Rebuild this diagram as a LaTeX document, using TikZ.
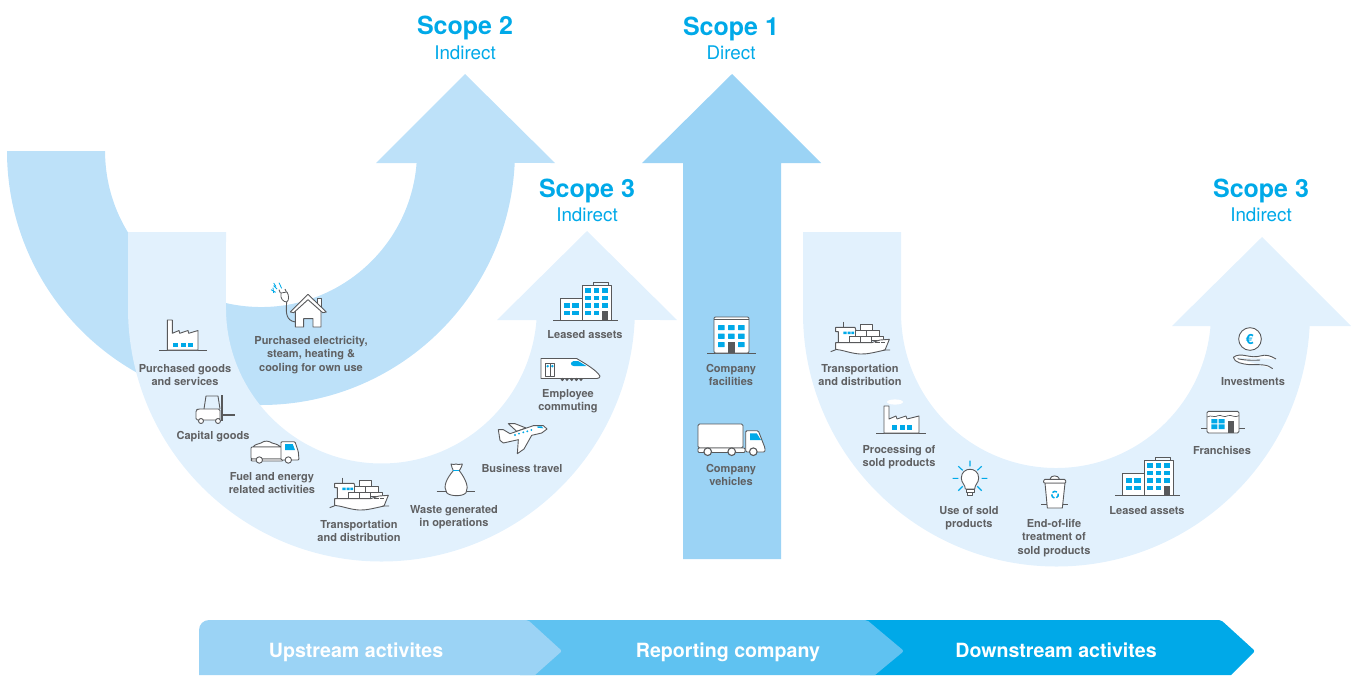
\documentclass[tikz,border=0pt]{standalone}
\usepackage{fontspec}
\setmainfont{TeX Gyre Heros}
\definecolor{pale}{HTML}{E2F1FD}
\definecolor{midb}{HTML}{BDE1F9}
\definecolor{sone}{HTML}{9BD3F5}
\definecolor{barm}{HTML}{5FC2F1}
\definecolor{cyanb}{HTML}{00A9E8}
\definecolor{greyt}{HTML}{5F6062}
\definecolor{greyi}{HTML}{58595B}
\tikzset{
 ic/.style={yscale=-1},
 ico/.style={draw=greyi,fill=white,line width=0.9pt,line join=round},
 gl/.style={draw=greyi,line width=0.9pt},
 blu/.style={fill=cyanb},
 drk/.style={fill=greyi},
 ray/.style={draw=cyanb,line width=1.1pt},
 lab/.style={text=greyt,font=\fontsize{11}{13.3}\selectfont\bfseries,align=center,inner sep=0pt,yshift=-1pt},
 ttl/.style={text=cyanb,font=\fontsize{25}{26}\selectfont\bfseries,inner sep=0pt,yshift=-2pt},
 sub/.style={text=cyanb,font=\fontsize{18.8}{19}\selectfont,inner sep=0pt},
 barl/.style={text=white,font=\fontsize{19.6}{20}\selectfont\bfseries,inner sep=0pt,text height=14.5pt,text depth=4pt},
 factorya/.pic={
  \draw[gl] (-24,0)--(24,0);
  \draw[ico] (-15.7,0)--(-15.7,-30)--(-10.7,-30)--(-10.7,-16.7)--(-4,-19.5)--(-3.3,-16.7)--(5,-19.5)--(5.7,-16.7)--(15,-19.5)--(15,0)--cycle;
  \foreach \x in {-10,-2.4,5}{\fill[blu] (\x,-6.7) rectangle ++(5,3.4);}
 },
 factoryb/.pic={
  \fill[white] (-6,-31) ellipse (8 and 2.6);
  \draw[gl] (-25,0)--(25,0);
  \draw[ico] (-17,0)--(-17,-27)--(-12,-27)--(-12,-14)--(-5,-17)--(-4,-14)--(5,-17)--(6,-14)--(18,-17)--(18,0)--cycle;
  \foreach \x in {-9,-1.5,6}{\fill[blu] (\x,-8) rectangle ++(5,5);}
 },
 leased/.pic={
  \draw[gl] (-29,0)--(36,0);
  \draw[ico] (-22,0) rectangle (0,-22);
  \draw[ico,fill=midb!30!white] (11,-37.5) rectangle (26,-35);
  \draw[ico] (0,0) rectangle (29,-35);
  \foreach \y in {-31.7,-24,-16.7,-9}{\foreach \x in {3.3,11.7}{\fill[blu] (\x,\y) rectangle ++(5.7,4.3);}}
  \foreach \y in {-31.7,-24,-16.7}{\fill[blu] (20,\y) rectangle ++(5.7,4.3);}
  \fill[drk] (20,-9) rectangle (25.7,0);
  \foreach \y in {-16.7,-9}{\foreach \x in {-18.3,-10}{\fill[blu] (\x,\y) rectangle ++(6.7,4.3);}}
 },
 office/.pic={
  \draw[gl] (-7,0)--(42,0);
  \draw[ico,rounded corners=1.2] (0,0) rectangle (35,-36);
  \draw[gl] (0,-34)--(35,-34);
  \foreach \y in {-28,-19.3}{\foreach \x in {4,14,24}{\fill[blu,rounded corners=.5] (\x,\y) rectangle ++(6.7,5.2);}}
  \foreach \x in {4,24}{\fill[blu,rounded corners=.5] (\x,-11) rectangle ++(6.7,5.2);}
  \fill[drk] (14,-11) rectangle (20.7,0);
 },
 bigtruck/.pic={
  \draw[ico,rounded corners=1.5] (0,0) rectangle (45,24);
  \draw[ico,rounded corners=1] (0,24) rectangle (47,28.5);
  \draw[ico,rounded corners=1.2] (47.7,6.7)--(60.3,6.7)--(67,24)--(67,28)--(47.7,28)--cycle;
  \fill[blu] (52,9.3)--(58.7,9.3)--(63,16)--(52,16)--cycle;
  \foreach \x in {9.7,33.7,55.3}{\draw[ico,line width=1.1pt,draw=greyi] (\x,27.7) circle (3.8); }
 },
 smalltruck/.pic={
  \draw[ico] (2,0) .. controls (4,-3) and (8,-3) .. (10,-4) .. controls (14,-7) and (18,-6) .. (21,-4) .. controls (25,-3) and (28,-2) .. (30,0) --cycle;
  \draw[ico,rounded corners=1] (0,0) rectangle (31,12);
  \draw[ico,rounded corners=1] (0,12) rectangle (32,14);
  \draw[ico,rounded corners=1] (30,-5.3)--(44,-5.3)--(47.3,4.7)--(48,13)--(30,13)--cycle;
  \fill[blu] (34,-3)--(41.7,-3)--(44,3)--(34,3)--cycle;
  \foreach \x in {8.3,37.3}{\draw[ico] (\x,13) circle (3.2);}
 },
 forklift/.pic={
  \draw[ico,rounded corners=1.5] (0,16)--(2,15)--(24,15)--(24,26)--(0,26)--cycle;
  \draw[ico,fill=none] (8,15)--(10,2)--(22,2)--(24,15);
  \draw[greyi,line width=2pt] (26,1)--(26,27);
  \draw[greyi,line width=1.5pt] (26,21)--(39,21);
  \foreach \x in {5,22}{\draw[ico] (\x,27) circle (2.5);}
 },
 ship/.pic={
  \begin{scope}[scale=1/3,shift={(-465,-150)}]
  \draw[gl] (490,65)--(490,82);
  \draw[ico] (467,82)--(525,82)--(528,92)--(525,128)--(475,128)--(475,95)--(467,95)--cycle;
  \fill[blu] (490,95) rectangle (500,102) (503,95) rectangle (512,102) (514,95) rectangle (522,102);
  \draw[ico] (540,72) rectangle (578,92);
  \draw[ico] (525,92) rectangle (560,110);
  \draw[ico] (560,92) rectangle (597,110);
  \draw[ico] (507,110) rectangle (542,128);
  \draw[ico] (542,110) rectangle (575,128);
  \draw[ico] (575,110) rectangle (610,120);
  \draw[ico] (467,128)--(575,128)--(600,120)--(628,118)--(615,150) .. controls (580,158) and (560,163) .. (540,162) .. controls (510,160) and (490,150) .. (467,148) --cycle;
  \draw[gl] (452,155)--(470,148) (610,150)--(630,150);
  \draw[greyi,line width=.6pt] (585,126)--(600,126) (603,126)--(615,126);
  \end{scope}
 },
 train/.pic={
  \begin{scope}[scale=1/3,shift={(-423,-325)}]
  \draw[ico] (423,265)--(530,265) .. controls (555,280) and (590,300) .. (600,318) .. controls (600,323) and (595,325) .. (590,325)--(423,325)--cycle;
  \fill[blu] (520,273)--(535,273)--(560,288)--(522,288) .. controls (510,286) and (510,276) .. (520,273)--cycle;
  \draw[ico,line width=.7pt] (436,280) rectangle (464,320);
  \draw[gl,line width=.7pt] (450,280)--(450,320);
  \fill[blu] (443,288) circle (4) (457,288) circle (4);
  \foreach \x in {487,501,515,529,543}{\fill[greyi] (\x,328) circle (5);}
  \end{scope}
 },
 plane/.pic={
  \begin{scope}[scale=1/3,shift={(-366,-505)}]
  \draw[ico] (325,462)--(345,462)--(378,475)--(350,485)--cycle;
  \draw[ico] (295,480)--(310,480)--(330,492)--(400,468)--(430,468)--(441,478)--(425,490)--(395,497)--(372,538)--(352,552)--(355,510)--(310,520)--(300,512)--cycle;
  \foreach \x/\y in {345/496,357/492,370/488,382/485,394/481}{\fill[blu] (\x,\y) circle (3.2);}
  \fill[blu] (412,470)--(425,470)--(430,476)--(412,474)--cycle;
  \end{scope}
 },
 sack/.pic={
  \begin{scope}[scale=1/3,shift={(-168,-663)}]
  \draw[gl] (110,663)--(226,663);
  \draw[ico] (160,602) .. controls (140,625) and (128,650) .. (140,668) .. controls (150,680) and (190,680) .. (198,668) .. controls (208,650) and (195,625) .. (178,602) .. controls (185,595) and (185,585) .. (187,582) .. controls (178,586) and (170,582) .. (168,582) .. controls (165,586) and (158,582) .. (153,582) .. controls (156,590) and (156,596) .. (160,602) --cycle;
  \draw[cyanb,line width=1pt] (160,602)--(178,602);
  \end{scope}
 },
 house/.pic={
  \begin{scope}[scale=1/3,shift={(-563,-170)}]
  \draw[gl] (499,95) .. controls (497,125) and (495,150) .. (525,155);
  \draw[ico,line width=.8pt] (482,68) .. controls (478,85) and (490,95) .. (499,95) .. controls (507,90) and (506,75) .. (500,65)--cycle;
  \draw[gl] (480,68)--(476,58) (498,65)--(494,56);
  \draw[ray,line width=.8pt] (460,38)--(466,47)--(461,47)--(470,56) (476,37)--(484,54) (452,58)--(466,66) (458,52)--(460,68);
  \draw[ico] (592,84) rectangle (603,112);
  \draw[ico] (525,170)--(525,112)--(563,84)--(602,112)--(602,170)--(578,170)--(578,145)--(550,145)--(550,170)--cycle;
  \draw[ico] (510,125)--(563,72)--(618,125)--(607,127)--(563,88)--(520,127)--cycle;
  \end{scope}
 },
 bulb/.pic={
  \begin{scope}[scale=1/3,shift={(-330,-478)}]
  \draw[ray] (330,423)--(330,440) (295,440)--(308,452) (365,440)--(352,452) (278,476)--(295,476) (365,476)--(382,476) (295,513)--(308,500) (365,513)--(352,500);
  \draw[ico] (316,508) .. controls (316,495) and (304,490) .. (304,475) .. controls (304,440) and (356,440) .. (356,475) .. controls (356,490) and (344,495) .. (344,508)--cycle;
  \draw[ico] (318,508) rectangle (342,519);
  \draw[ico] (323,519) rectangle (337,526);
  \end{scope}
 },
 bin/.pic={
  \begin{scope}[scale=1/3,shift={(-585,-553)}]
  \draw[gl] (543,553)--(625,553);
  \draw[ico] (555,490)--(562,565)--(607,565)--(615,490)--cycle;
  \draw[ico,rounded corners=1] (570,480) .. controls (572,466) and (596,466) .. (598,480)--cycle;
  \draw[ico,rounded corners=1] (550,490)--(552,479)--(616,479)--(618,490)--cycle;
  \foreach \a in {100,220,340}{\draw[cyanb,line width=1.5pt] (585,525) ++(\a:10) arc[start angle=\a,end angle=\a+85,radius=10];}
  \end{scope}
 },
 coinhand/.pic={
  \begin{scope}[scale=1/3,shift={(-452,-57)}]
  \draw[ico] (452,57) circle (34);
  \node[text=cyanb,font=\fontsize{14}{14}\selectfont\bfseries,inner sep=0pt] at (451,59) {€};
  \draw[ico] (402,112) .. controls (412,104) and (425,104) .. (440,107) .. controls (455,110) and (470,112) .. (482,108) .. controls (500,102) and (515,108) .. (530,117) (520,146) .. controls (505,132) and (480,134) .. (450,134) .. controls (430,132) and (405,128) .. (402,112) (415,116) .. controls (430,120) and (460,122) .. (482,120);
  \end{scope}
 },
 franchise/.pic={
  \begin{scope}[scale=1/3,shift={(-370,-340)}]
  \draw[gl] (305,327)--(435,327);
  \draw[ico,rounded corners=1.5] (322,340) rectangle (418,275);
  \draw[gl,line width=.7pt] (322,292) .. controls (335,284) and (345,296) .. (355,288) .. controls (365,284) and (372,296) .. (385,288) .. controls (395,284) and (405,296) .. (418,288);
  \fill[blu] (335,298) rectangle (353,311) (357,298) rectangle (375,311) (335,314) rectangle (353,328) (357,314) rectangle (375,328);
  \fill[drk] (385,305) rectangle (402,340);
  \end{scope}
 }
}
\begin{document}
\begin{tikzpicture}[x=1pt,y=1pt,yscale=-1]
\useasboundingbox (0,0) rectangle (1351,675);
% Scope 2 arrow
\fill[midb] (7,151) arc[start angle=180,end angle=2.7,radius=254] -- (555,163) -- (465,74) -- (376,163) -- (416.6,163) arc[start angle=4.4,end angle=180,radius=156] -- cycle;
% Scope 3 upstream arrow
\fill[pale] (128,232) -- (128,308) arc[start angle=180,end angle=2.71,radius=253.5] -- (677,320) -- (587,231) -- (497,320) -- (536.5,320) arc[start angle=4.43,end angle=180,radius=155.5] -- (226,232) -- cycle;
% Scope 1 arrow
\fill[sone] (683,559) -- (683,163) -- (642,163) -- (732,74) -- (821,163) -- (781,163) -- (781,559) -- cycle;
% Scope 3 downstream arrow
\fill[pale] (803,232) -- (803,313) arc[start angle=180,end angle=2.94,radius=253.5] -- (1351,326) -- (1262,237) -- (1172,326) -- (1210.5,326) arc[start angle=4.81,end angle=180,radius=155] -- (901,232) -- cycle;
% Bottom band
\fill[cyanb] (860,675) -- (860,620) [rounded corners=2] -- (1221,620) -- (1255,651) [sharp corners] -- (1231,675) -- cycle;
\fill[barm] (520,675) -- (520,620) [rounded corners=2] -- (867,620) -- (904,651) [sharp corners] -- (875,675) -- cycle;
\fill[sone] (199,675) [rounded corners=10] -- (199,620) [rounded corners=2] -- (528,620) -- (562,651) [sharp corners] -- (535,675) -- cycle;
% Titles
\node[ttl] (t2) at (465,26) {Scope 2};
\node[sub] (s2) at (465,53) {Indirect};
\node[ttl] (t1) at (731,27) {Scope 1};
\node[sub] (s1) at (731,53) {Direct};
\node[ttl] (t3a) at (587,189) {Scope 3};
\node[sub] (s3a) at (587,215) {Indirect};
\node[ttl] (t3b) at (1261,189) {Scope 3};
\node[sub] (s3b) at (1261,215) {Indirect};
% Icons
\pic[ic] at (183,350) {factorya};
\pic[ic] at (196,394) {forklift};
\pic[ic] at (251,447) {smalltruck};
\pic[ic] at (334,506) {ship};
\pic[ic] at (308,327) {house};
\pic[ic] at (456,491) {sack};
\pic[ic] at (522,438) {plane};
\pic[ic] at (541,378.5) {train};
\pic[ic] at (582,320) {leased};
\pic[ic] at (714,353) {office};
\pic[ic] at (698,424) {bigtruck};
\pic[ic] at (835,350) {ship};
\pic[ic] at (901,433) {factoryb};
\pic[ic] at (970,479) {bulb};
\pic[ic] at (1055,504) {bin};
\pic[ic] at (1144,495) {leased};
\pic[ic] at (1223,433) {franchise};
\pic[ic] at (1250,339) {coinhand};
% Labels
\node[lab] (l1) at (185,374) {Purchased goods\\and services};
\node[lab] (l2) at (213,435.5) {Capital goods};
\node[lab] (l3) at (272,482) {Fuel and energy\\related activities};
\node[lab] (l4) at (359,530) {Transportation\\and distribution};
\node[lab] (l5) at (454,516.5) {Waste generated\\in operations};
\node[lab] (l6) at (522,467) {Business travel};
\node[lab] (l7) at (568,400) {Employee\\commuting};
\node[lab] (l8) at (585,334) {Leased assets};
\node[lab] (l9) at (311,354) {Purchased electricity,\\steam, heating \&\\cooling for own use};
\node[lab] (l10) at (731,374) {Company\\facilities};
\node[lab] (l11) at (731,474) {Company\\vehicles};
\node[lab] (l12) at (860,374) {Transportation\\and distribution};
\node[lab] (l13) at (899,456) {Processing of\\sold products};
\node[lab] (l14) at (969,517) {Use of sold\\products};
\node[lab] (l15) at (1054,537) {End-of-life\\treatment of\\sold products};
\node[lab] (l16) at (1147,510) {Leased assets};
\node[lab] (l17) at (1222,449) {Franchises};
\node[lab] (l18) at (1253,381) {Investments};
% Band labels
\node[barl] (b1) at (356,652.5) {Upstream activites};
\node[barl] (b2) at (728,652.5) {Reporting company};
\node[barl] (b3) at (1056,652.5) {Downstream activites};
\end{tikzpicture}
\end{document}
